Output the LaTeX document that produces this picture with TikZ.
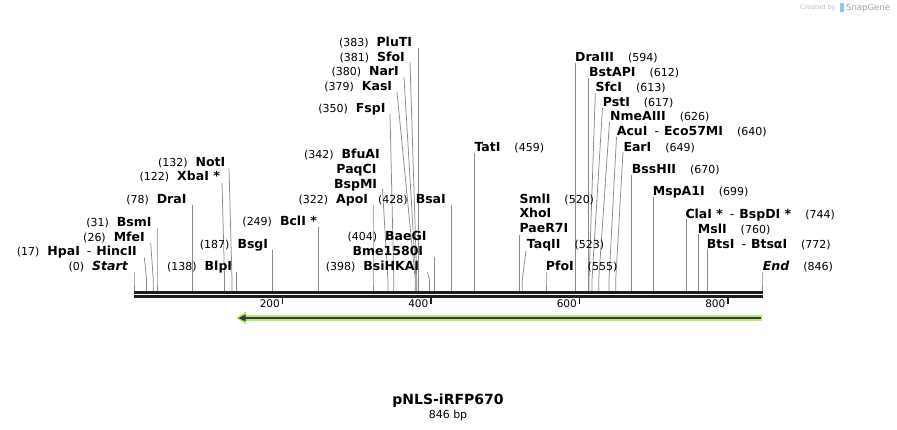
\documentclass[tikz,border=0pt]{standalone}
\usepackage{fontspec}
\setmainfont{DejaVu Sans}
\usetikzlibrary{arrows.meta}
\definecolor{cutgray}{HTML}{8A8A8A}
\definecolor{bbdark}{HTML}{1E1E1E}
\definecolor{featgreen}{HTML}{B5E878}
\definecolor{featdark}{HTML}{3A3A3A}
\definecolor{sglight}{HTML}{BDBDBD}
\definecolor{sgblue}{HTML}{8CC8F0}
\newcommand{\nmf}{\fontsize{12.5}{14}\selectfont\bfseries}
\newcommand{\nuf}{\fontsize{11}{13}\selectfont}
\newcommand{\Lab}[4]{% name, x end, y centre, text
  \node[lablft] (#1) at (#2,#3+4.3) {#4};}
\newcommand{\Rab}[4]{% name, x start, y centre, text
  \node[labrgt] (#1) at (#2,#3+4.3) {#4};}
\newcommand{\Cut}[4]{% name, start x, start y, site x
  \coordinate (#1a) at (#2,#3);
  \coordinate (#1b) at (#4,280);
  \coordinate (#1c) at (#4,290.8);
  \draw[cutln] (#1a) -- (#1b) -- (#1c);}
\newcommand{\LN}[2]{{\nuf #1}\hspace{8pt}{\nmf #2}}
\newcommand{\RN}[2]{{\nmf #1}\hspace{14pt}{\nuf #2}}
\newcommand{\hy}{\hspace{7pt}{\mdseries -}\hspace{5pt}}
\tikzset{
  lablft/.style={anchor=base east, inner sep=0pt},
  labrgt/.style={anchor=base west, inner sep=0pt},
  cutln/.style={draw=cutgray, line width=0.75pt},
  ticklbl/.style={anchor=base east, inner sep=0pt, font=\fontsize{10.5}{12}\selectfont},
}
\begin{document}
\begin{tikzpicture}[x=1pt,y=-1pt]
\useasboundingbox (0,0) rectangle (897,430);

% ---- cut lines
\Cut{cStart}{134}{272}{134}
\Cut{cHpa}{144.3}{257.5}{146.6}
\Cut{cMfe}{150.7}{243}{153.3}
\Cut{cBsm}{157}{228}{157}
\Cut{cDra}{191.9}{205}{191.9}
\Cut{cBlp}{236.4}{272}{236.4}
\Cut{cXba}{222}{183}{224.6}
\Cut{cNot}{229}{168}{232}
\Cut{cBsg}{272.8}{250}{272.8}
\Cut{cBcl}{318.8}{227}{318.8}
\Cut{cApo}{373}{205}{373}
\Cut{cBsp}{382.5}{189}{387.9}
\Cut{cFsp}{390}{114}{393.8}
\Cut{cKas}{397}{92}{415.3}
\Cut{cNar}{404}{77}{416}
\Cut{cSfo}{410}{62}{416.8}
\Cut{cPlu}{418.3}{48}{418.3}
\Cut{cBsi}{427.5}{272}{429.4}
\Cut{cBae}{433.9}{257}{433.9}
\Cut{cBsa}{451.7}{205}{451.7}
\Cut{cTat}{474.7}{153}{474.7}
\Cut{cSml}{519.8}{235}{519.8}
\Cut{cTaq}{526}{251}{522.2}
\Cut{cPfo}{546}{272}{546}
\Cut{cDraIII}{574.9}{63}{574.9}
\Cut{cBstAP}{588.3}{78}{588.3}
\Cut{cSfc}{595.3}{93}{589}
\Cut{cPst}{602.5}{108}{592}
\Cut{cNme}{609.5}{122}{598.7}
\Cut{cAcu}{616.5}{137}{609}
\Cut{cEar}{623}{152}{615.7}
\Cut{cBss}{631.4}{175}{631.4}
\Cut{cMsp}{652.9}{197}{652.9}
\Cut{cCla}{686.3}{219}{686.3}
\Cut{cMsl}{698.2}{234}{698.2}
\Cut{cBts}{707.1}{249}{707.1}
\Cut{cEnd}{762}{272}{762}

% ---- backbone
\fill[bbdark] (134,290.8) rectangle (762.5,293.8);
\fill[bbdark] (134,295.2) rectangle (762.5,297.8);
\coordinate (bbL) at (134,292);
\coordinate (bbR) at (762,292);

% ---- ticks
\foreach \v/\xx in {200/282.5,400/431,600/579.5,800/728}{
  \coordinate (t\v) at (\xx,297.5);
  \coordinate (u\v) at (\xx,304.5);
  \draw[line width=1.4pt, bbdark] (t\v) -- (u\v);
  \node[ticklbl] (tl\v) at (\xx-2.5,307.5) {\v};
}

% ---- feature arrow
\coordinate (fR) at (762,318);
\coordinate (fL) at (244,318);
\coordinate (fT) at (236,318);
\draw[line width=6pt, featgreen] (fR) -- (fL);
\fill[featgreen] (fT) -- ++(10,-6.5) -- ++(0,13) -- cycle;
\draw[line width=2pt, featdark] (761,318) -- (243,318);
\fill[featdark] (238.5,318) -- ++(7,-3.6) -- ++(0,7.2) -- cycle;

% ---- left labels
\Lab{lStart}{128}{266.7}{\LN{(0)}{\itshape Start}}
\Lab{lHpa}{137}{251.7}{\LN{(17)}{HpaI\hy HincII}}
\Lab{lMfe}{145}{237.3}{\LN{(26)}{MfeI}}
\Lab{lBsm}{151.7}{222.7}{\LN{(31)}{BsmI}}
\Lab{lDra}{186.7}{199.5}{\LN{(78)}{DraI}}
\Lab{lBlp}{232.3}{266.7}{\LN{(138)}{BlpI}}
\Lab{lXba}{220}{176.7}{\LN{(122)}{XbaI *}}
\Lab{lNot}{225.5}{162}{\LN{(132)}{NotI}}
\Lab{lBsg}{268.3}{244.3}{\LN{(187)}{BsgI}}
\Lab{lBcl}{317}{221.5}{\LN{(249)}{BclI *}}
\Lab{lApo}{368.3}{199.3}{\LN{(322)}{ApoI}}
\Lab{lBfu}{380}{154.5}{\LN{(342)}{BfuAI}}
\Lab{lPaq}{376.7}{169.3}{{\nmf PaqCI}}
\Lab{lBspM}{377.3}{184}{{\nmf BspMI}}
\Lab{lFsp}{385.7}{108.3}{\LN{(350)}{FspI}}
\Lab{lKas}{392.3}{86.7}{\LN{(379)}{KasI}}
\Lab{lNar}{399}{71.7}{\LN{(380)}{NarI}}
\Lab{lSfo}{405}{57.3}{\LN{(381)}{SfoI}}
\Lab{lPlu}{412.3}{42.3}{\LN{(383)}{PluTI}}
\Lab{lBsi}{419.3}{266.5}{\LN{(398)}{BsiHKAI}}
\Lab{lBae}{426.7}{236.7}{\LN{(404)}{BaeGI}}
\Lab{lBme}{423.3}{251.3}{{\nmf Bme1580I}}
\Lab{lBsa}{446}{199.3}{\LN{(428)}{BsaI}}

% ---- right labels
\Rab{rTat}{474.3}{147.3}{\RN{TatI}{(459)}}
\Rab{rSml}{519.3}{199.5}{\RN{SmlI}{(520)}}
\Rab{rXho}{519.3}{213.5}{{\nmf XhoI}}
\Rab{rPae}{519.3}{228.5}{{\nmf PaeR7I}}
\Rab{rTaq}{526.7}{243.8}{\RN{TaqII}{(523)}}
\Rab{rPfo}{545.7}{266.7}{\RN{PfoI}{(555)}}
\Rab{rDraIII}{575}{57.3}{\RN{DraIII}{(594)}}
\Rab{rBstAP}{589}{72.3}{\RN{BstAPI}{(612)}}
\Rab{rSfc}{595.3}{87.3}{\RN{SfcI}{(613)}}
\Rab{rPst}{602.7}{102}{\RN{PstI}{(617)}}
\Rab{rNme}{610}{116.7}{\RN{NmeAIII}{(626)}}
\Rab{rAcu}{616.7}{131.5}{\RN{AcuI\hy Eco57MI}{(640)}}
\Rab{rEar}{623.3}{147}{\RN{EarI}{(649)}}
\Rab{rBss}{631.7}{169.3}{\RN{BssHII}{(670)}}
\Rab{rMsp}{652.7}{191.7}{\RN{MspA1I}{(699)}}
\Rab{rCla}{685.3}{213.8}{\RN{ClaI *\hy BspDI *}{(744)}}
\Rab{rMsl}{697.7}{228.8}{\RN{MslI}{(760)}}
\Rab{rBts}{706.7}{243.8}{\RN{BtsI\hy BtsαI}{(772)}}
\Rab{rEnd}{762.7}{266.7}{\RN{\itshape End}{(846)}}

% ---- title
\node[inner sep=0pt, anchor=base] (title) at (448,404) {\fontsize{14}{16}\selectfont\bfseries pNLS-iRFP670};
\node[inner sep=0pt, anchor=base] (size) at (448,418) {\fontsize{11}{12}\selectfont 846 bp};

% ---- credit
\node[inner sep=0pt, anchor=base east, text=sglight] (cred) at (836,10) {\fontsize{6.5}{8}\selectfont Created by};
\fill[sgblue] (839.5,3) rectangle (843.5,12.5);
\coordinate (logo) at (841.5,7.5);
\node[inner sep=0pt, anchor=base west, text=sglight!85!black] (sg) at (846,10.5) {\fontsize{8.5}{10}\selectfont SnapGene};
\end{tikzpicture}
\end{document}
